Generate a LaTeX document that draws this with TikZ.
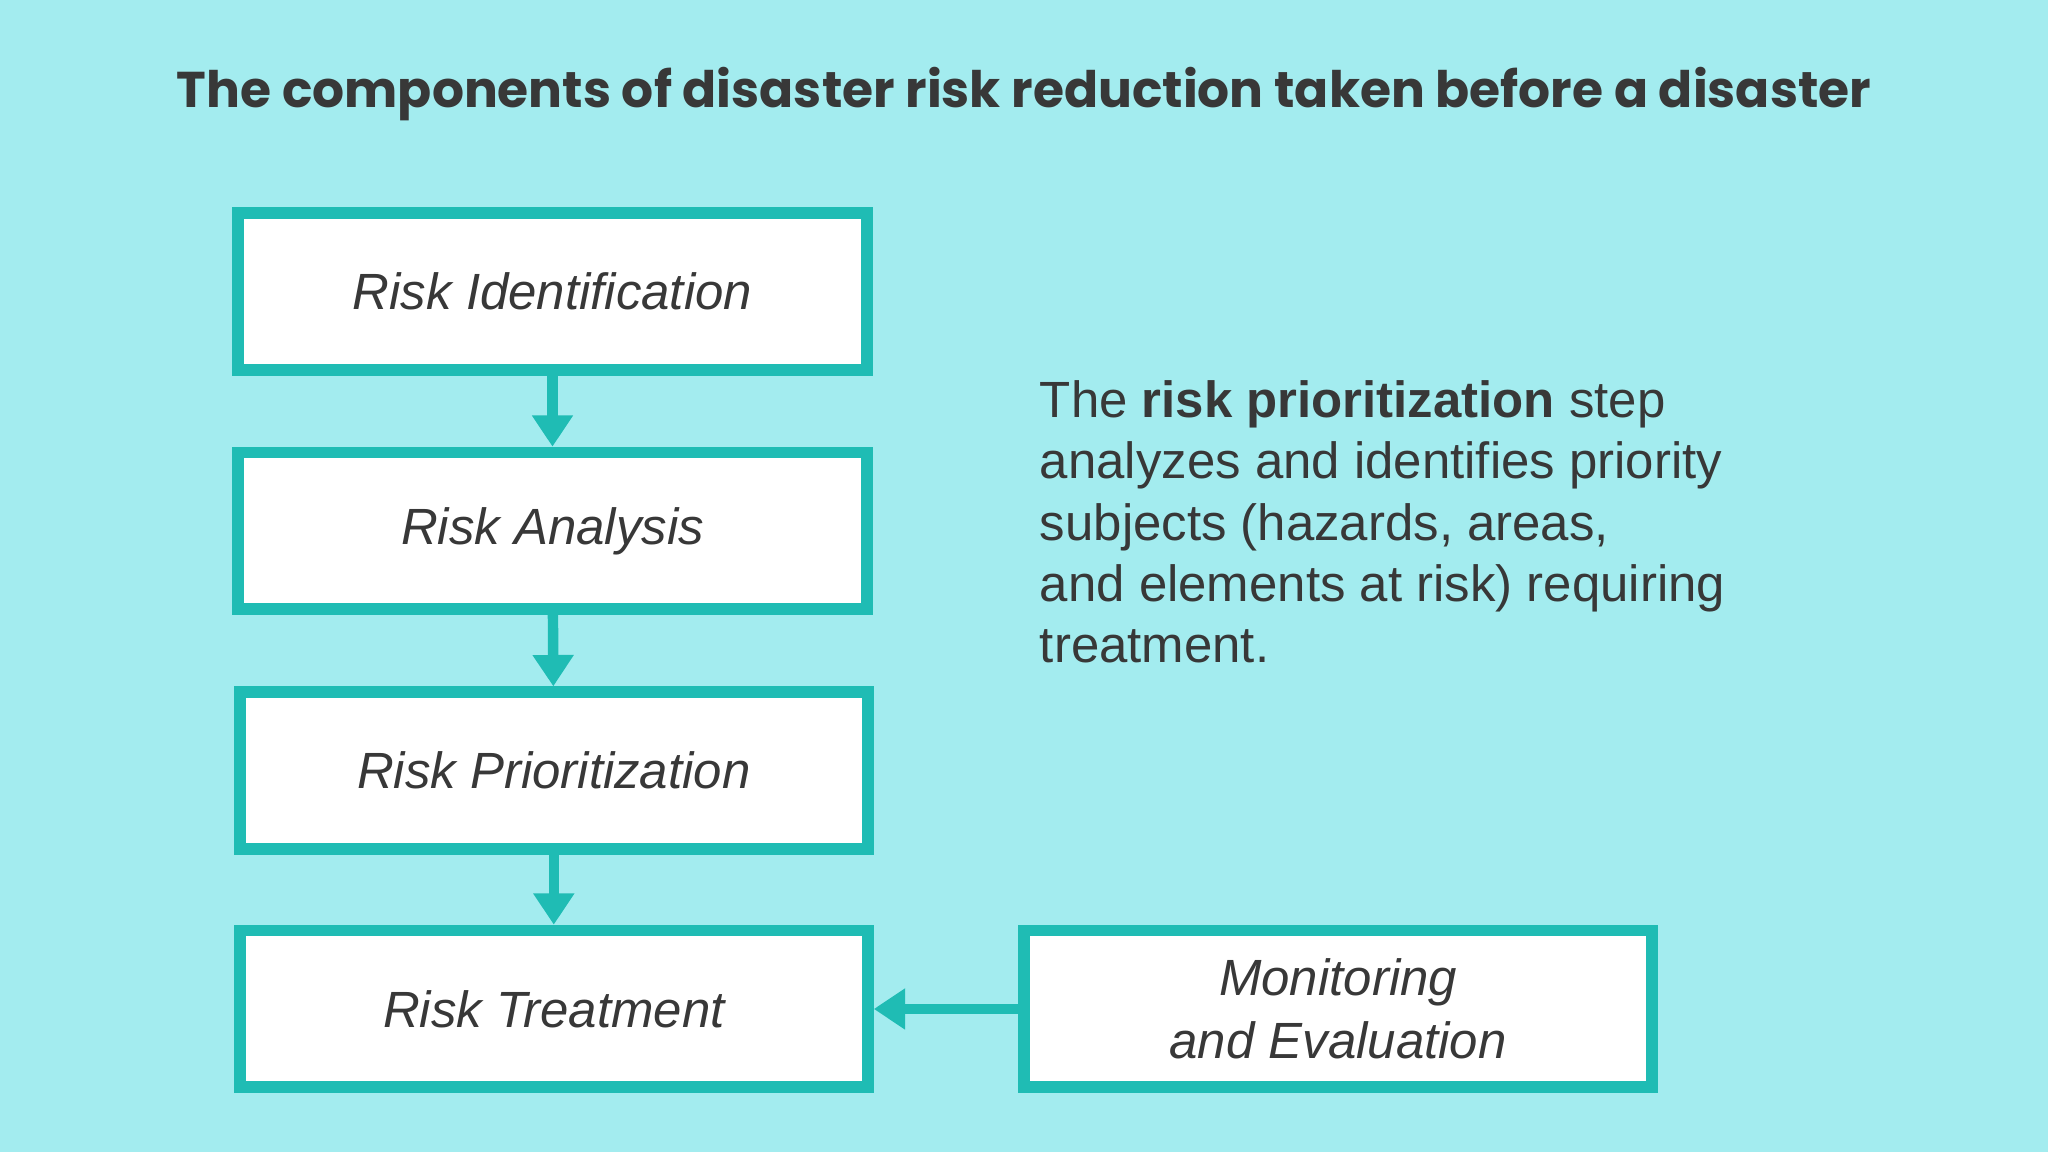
\documentclass[tikz,border=0pt]{standalone}
\usepackage{fontspec}
\setmainfont{Liberation Sans}
\newfontfamily\titlefont{Poppins}
\usetikzlibrary{arrows.meta}
\definecolor{bg}{HTML}{A3ECEF}
\definecolor{teal}{HTML}{1FBCB4}
\definecolor{ink}{HTML}{383838}
\tikzset{
 stepbox/.style={draw=teal,line width=9pt,fill=white,minimum width=481pt,minimum height=120pt,inner sep=0pt,font=\fontsize{39}{48}\selectfont\itshape,text=ink,align=center},
 conn/.style={draw=teal,line width=8pt,-{Triangle[length=24pt,width=30pt]}}
}
\begin{document}
\begin{tikzpicture}[x=1pt,y=-1pt]
\fill[bg] (0,0) rectangle (1568,882);
\useasboundingbox (0,0) rectangle (1568,882);
\node[font=\titlefont\bfseries\fontsize{38.5}{44}\selectfont,text=ink] (title) at (784,72) {The components of disaster risk reduction taken before a disaster};
\node[stepbox] (b1) at (423,223) {Risk Identification};
\node[stepbox] (b2) at (423,406.5) {Risk Analysis};
\node[stepbox] (b3) at (424,590) {Risk Prioritization};
\node[stepbox] (b4) at (424,772.5) {Risk Treatment};
\node[stepbox] (b5) at (1024.5,772.5) {Monitoring\\and Evaluation};
\draw[conn] (b1) -- (b2);
\draw[conn] (b2) -- (b3);
\draw[conn] (b3) -- (b4);
\draw[conn] (b5) -- (b4);
\node[anchor=north west,align=left,text=ink,font=\fontsize{39}{47}\selectfont,inner sep=0pt] (txt) at (796,291) {The \textbf{risk prioritization} step\\analyzes and identifies priority\\subjects (hazards, areas,\\and elements at risk) requiring\\treatment.};
\end{tikzpicture}
\end{document}
